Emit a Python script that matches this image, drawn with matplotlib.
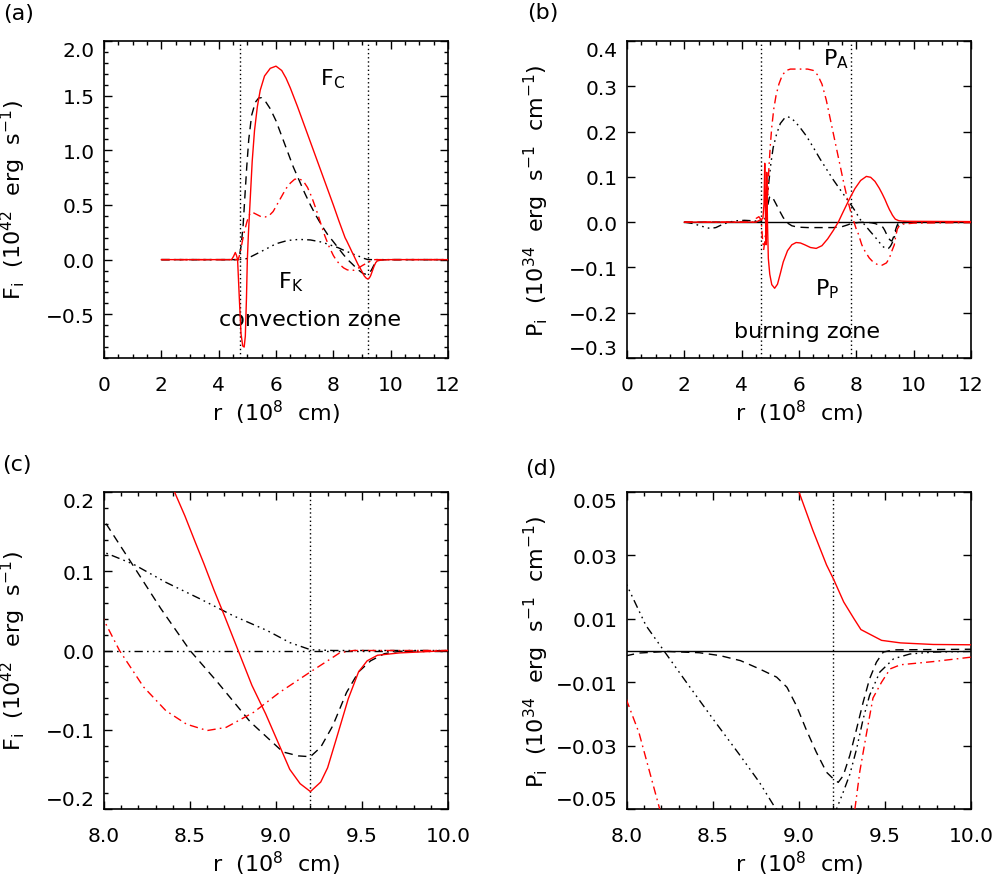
import numpy as np
import matplotlib
matplotlib.use("Agg")
import matplotlib.pyplot as plt
from matplotlib.ticker import FixedLocator, MultipleLocator, FuncFormatter, NullLocator

# ---------------- data: panel (a)/(c)  fluxes F_i (1e42 erg/s) vs r (1e8 cm) ----------------
# red solid (F_C)
fc_r = [2.0, 4.45, 4.52, 4.58, 4.62, 4.66, 4.72, 4.78, 4.84, 4.89, 4.93, 4.97, 5.00, 5.04,
        5.10, 5.17, 5.25, 5.35, 5.45, 5.60, 5.80, 6.00, 6.20, 6.35, 6.50, 6.75, 7.00, 7.25,
        7.50, 7.75, 8.00, 8.20, 8.41, 8.47, 8.53, 8.58, 8.64, 8.70, 8.78, 8.86, 8.94, 9.02,
        9.08, 9.14, 9.20, 9.26, 9.30, 9.35, 9.42, 9.48, 9.53, 9.59, 9.72, 9.92, 10.0, 12.0]
fc_v = [0.0, 0.0, 0.03, 0.065, 0.04, 0.0, -0.35, -0.68, -0.79, -0.80, -0.70, -0.35, 0.0, 0.25,
        0.55, 0.90, 1.18, 1.40, 1.55, 1.68, 1.75, 1.77, 1.73, 1.66, 1.57, 1.40, 1.22, 1.04,
        0.86, 0.68, 0.50, 0.35, 0.200, 0.170, 0.137, 0.110, 0.076, 0.044, 0.0, -0.044, -0.080, -0.120,
        -0.150, -0.168, -0.178, -0.166, -0.148, -0.112, -0.061, -0.027, -0.013, -0.006, -0.003, -0.001, 0.0, 0.0]
# black dashed
fe_r = [2.0, 4.70, 4.78, 4.85, 4.92, 4.98, 5.05, 5.15, 5.28, 5.40, 5.50, 5.65, 5.80, 6.00,
        6.20, 6.40, 6.60, 6.80, 7.00, 7.20, 7.40, 7.60, 7.80, 8.00, 8.17, 8.33, 8.50, 8.66,
        8.85, 9.04, 9.13, 9.20, 9.26, 9.33, 9.41, 9.48, 9.55, 9.63, 9.72, 10.0, 12.0]
fe_v = [0.0, 0.0, 0.12, 0.30, 0.60, 0.85, 1.10, 1.32, 1.44, 1.48, 1.48, 1.44, 1.38, 1.27,
        1.13, 0.99, 0.85, 0.73, 0.61, 0.50, 0.40, 0.31, 0.23, 0.164, 0.107, 0.053, 0.0, -0.040,
        -0.090, -0.128, -0.133, -0.134, -0.122, -0.095, -0.053, -0.027, -0.013, -0.004, -0.001, 0.0, 0.0]
# red dash-dot
fp_r = [2.0, 4.68, 4.75, 4.82, 4.90, 4.98, 5.05, 5.12, 5.20, 5.35, 5.50, 5.62, 5.75, 5.90,
        6.05, 6.20, 6.35, 6.50, 6.65, 6.80, 6.95, 7.10, 7.25, 7.40, 7.55, 7.70, 7.85, 8.00,
        8.09, 8.23, 8.36, 8.48, 8.60, 8.71, 8.87, 9.02, 9.20, 9.30, 9.37, 9.45, 12.0]
fp_v = [0.0, 0.0, 0.06, 0.16, 0.26, 0.34, 0.40, 0.43, 0.43, 0.41, 0.39, 0.39, 0.40, 0.44,
        0.51, 0.58, 0.65, 0.70, 0.735, 0.74, 0.72, 0.66, 0.57, 0.46, 0.34, 0.22, 0.12, 0.038,
        0.0, -0.046, -0.076, -0.093, -0.101, -0.097, -0.078, -0.053, -0.027, -0.013, -0.003, 0.0, 0.0]
# black dash-dot-dot (F_K)
fk_r = [2.0, 4.72, 5.00, 5.30, 5.60, 6.00, 6.40, 6.80, 7.20, 7.60, 8.00, 8.17, 8.36, 8.56,
        8.75, 8.95, 9.08, 9.20, 9.33, 12.0]
fk_v = [0.0, 0.0, 0.01, 0.05, 0.09, 0.145, 0.175, 0.185, 0.18, 0.16, 0.124, 0.109, 0.086, 0.065,
        0.044, 0.025, 0.010, 0.001, 0.0, 0.0]

# ---------------- data: panel (b)/(d)  P_i (1e34 erg/s/cm) vs r ----------------
# black solid
pz_r = [2.0, 12.0]
pz_v = [0.0, 0.0]
# red solid (P_P)
pp_r = [2.0, 4.50, 4.62, 4.74, 4.78, 4.805, 4.83, 4.85, 4.875, 4.90, 4.93, 4.98, 5.05, 5.15,
        5.25, 5.35, 5.45, 5.60, 5.75, 5.90, 6.05, 6.20, 6.40, 6.60, 6.80, 7.00, 7.20, 7.37,
        7.55, 7.75, 7.95, 8.15, 8.35, 8.50, 8.65, 8.80, 8.90, 9.00, 9.08, 9.16, 9.20, 9.26,
        9.32, 9.36, 9.48, 9.59, 9.78, 10.0, 12.0]
pp_v = [0.0, 0.0, 0.004, 0.008, 0.04, 0.13, 0.02, -0.05, 0.11, 0.0, -0.08, -0.115, -0.138, -0.146,
        -0.137, -0.113, -0.088, -0.063, -0.050, -0.045, -0.046, -0.050, -0.056, -0.058, -0.052, -0.037, -0.018, 0.0,
        0.024, 0.050, 0.074, 0.092, 0.101, 0.099, 0.090, 0.075, 0.063, 0.050, 0.038, 0.027, 0.0226, 0.0153,
        0.010, 0.0066, 0.0032, 0.0024, 0.0019, 0.0018, 0.0012]
# red dash-dot (P_A)
pa_r = [2.0, 4.40, 4.50, 4.60, 4.68, 4.73, 4.77, 4.81, 4.86, 4.90, 4.95, 5.00, 5.05, 5.12,
        5.20, 5.30, 5.42, 5.56, 5.70, 6.00, 6.30, 6.50, 6.65, 6.80, 6.95, 7.10, 7.25, 7.40,
        7.55, 7.70, 7.85, 7.92, 8.00, 8.07, 8.13, 8.19, 8.30, 8.45, 8.60, 8.75, 8.90, 9.05,
        9.15, 9.25, 9.325, 9.354, 9.393, 9.43, 9.48, 9.53, 9.59, 9.78, 10.0, 12.0]
pa_v = [0.0, 0.0, 0.008, 0.012, 0.005, -0.04, -0.06, -0.04, 0.0, 0.05, 0.12, 0.17, 0.21, 0.25,
        0.28, 0.305, 0.325, 0.335, 0.338, 0.338, 0.338, 0.335, 0.325, 0.305, 0.27, 0.225, 0.18, 0.135,
        0.09, 0.048, 0.012, 0.0, -0.016, -0.026, -0.038, -0.050, -0.064, -0.079, -0.089, -0.094, -0.095, -0.090,
        -0.080, -0.062, -0.050, -0.038, -0.026, -0.015, -0.010, -0.0058, -0.0045, -0.0035, -0.0021, -0.001]
# black dash-dot-dot
pk_r = [2.0, 2.3, 2.6, 2.9, 3.1, 3.3, 3.55, 3.8, 4.1, 4.4, 4.6, 4.80, 4.88, 4.95,
        5.02, 5.10, 5.22, 5.35, 5.50, 5.60, 5.75, 6.00, 6.26, 6.50, 6.73, 7.00, 7.19, 7.40,
        7.66, 7.85, 8.00, 8.11, 8.22, 8.345, 8.50, 8.656, 8.77, 8.86, 8.95, 9.05, 9.12, 9.18,
        9.218, 9.257, 9.296, 9.335, 9.373, 9.41, 9.47, 9.55, 9.645, 9.78, 10.0, 12.0]
pk_v = [0.0, -0.003, -0.009, -0.014, -0.012, -0.006, 0.0, 0.003, 0.004, 0.003, 0.002, 0.002, 0.04, 0.09,
        0.13, 0.165, 0.195, 0.218, 0.230, 0.233, 0.229, 0.212, 0.190, 0.165, 0.140, 0.113, 0.094, 0.075,
        0.052, 0.035, 0.0205, 0.0079, -0.0005, -0.010, -0.0216, -0.033, -0.0416, -0.0495, -0.055, -0.058, -0.058, -0.054,
        -0.050, -0.0447, -0.039, -0.031, -0.0216, -0.0142, -0.0068, -0.0026, -0.0011, -0.0005, -0.0003, 0.0]
# black dashed
pe_r = [2.0, 4.75, 4.85, 4.92, 4.97, 5.03, 5.10, 5.20, 5.33, 5.45, 5.60, 5.75, 5.95, 6.30,
        6.80, 7.20, 7.50, 7.70, 7.85, 8.00, 8.07, 8.23, 8.42, 8.54, 8.66, 8.77, 8.87, 8.93,
        8.985, 9.04, 9.10, 9.16, 9.20, 9.228, 9.257, 9.296, 9.335, 9.373, 9.41, 9.45, 9.49, 9.55,
        9.78, 10.0, 12.0]
pe_v = [0.0, 0.0, 0.01, 0.04, 0.055, 0.058, 0.052, 0.04, 0.024, 0.01, -0.002, -0.008, -0.011, -0.012,
        -0.012, -0.012, -0.010, -0.006, -0.002, -0.0016, -0.0008, -0.0003, -0.0007, -0.0016, -0.0032, -0.0058, -0.0084, -0.0116,
        -0.0174, -0.0247, -0.032, -0.0384, -0.0405, -0.0416, -0.0395, -0.033, -0.0247, -0.0163, -0.009, -0.0037, -0.0005, 0.0002,
        0.0003, 0.0004, 0.0003]

# zone boundaries (dotted verticals)
vlines_a = [4.75, 9.2]
vlines_b = [4.66, 7.83]
vlines_c = [9.2]
vlines_d = [9.2]

# tick lists
xt_ab = [0, 2, 4, 6, 8, 10, 12]
xt_cd = [8.0, 8.5, 9.0, 9.5, 10.0]
yt_a = [-0.5, 0.0, 0.5, 1.0, 1.5, 2.0]
yt_b = [-0.3, -0.2, -0.1, 0.0, 0.1, 0.2, 0.3, 0.4]
yt_c = [-0.2, -0.1, 0.0, 0.1, 0.2]
yt_d = [-0.05, -0.03, -0.01, 0.01, 0.03, 0.05]

# ---------------- style ----------------
plt.rcParams.update({
    "font.family": ["DejaVu Sans"],
    "mathtext.fontset": "dejavusans",
    "lines.scale_dashes": False,
    "axes.linewidth": 1.2,
})
RED = "#ff0000"
LW = 1.0
DASH = (0, (6, 4))
DASHDOT = (0, (6, 3, 1.2, 3))
DASHDOTDOT = (0, (6, 3, 1.2, 3, 1.2, 3, 1.2, 3))
DOT = (0, (1, 2))

W, H = 995, 879
fig = plt.figure(figsize=(W / 100, H / 100), dpi=100)


def add_ax(left, top, right, bottom):
    return fig.add_axes([left / W, 1 - bottom / H, (right - left) / W, (bottom - top) / H])


ax_a = add_ax(104, 42, 448, 359)
ax_b = add_ax(627, 42, 971, 359)
ax_c = add_ax(104, 493, 448, 810)
ax_d = add_ax(627, 493, 971, 810)


def fmt(f):
    return FuncFormatter(lambda v, p: (f % v).replace("-", "\u2212"))


def style(ax, xlim, ylim, xt, xminor, yt, yminor, xf, yf, ylabel):
    ax.set_xlim(*xlim)
    ax.set_ylim(*ylim)
    ax.xaxis.set_major_locator(FixedLocator(xt))
    ax.yaxis.set_major_locator(FixedLocator(yt))
    ax.xaxis.set_minor_locator(MultipleLocator(xminor) if xminor else NullLocator())
    ax.yaxis.set_minor_locator(MultipleLocator(yminor) if yminor else NullLocator())
    ax.xaxis.set_major_formatter(fmt(xf))
    ax.yaxis.set_major_formatter(fmt(yf))
    ax.tick_params(which="both", direction="in", top=True, right=True, width=1.0)
    ax.tick_params(which="major", length=5.5)
    ax.tick_params(which="minor", length=2.8)
    ax.tick_params(axis="x", which="major", pad=12.5, labelsize=14.5)
    ax.tick_params(axis="y", which="major", pad=6.5, labelsize=14.5)
    ax.set_xlabel(r"$\mathregular{r\ \ (10^8\ \ cm)}$", fontsize=16)
    ax.xaxis.set_label_coords(0.5, -0.125)
    ax.set_ylabel(ylabel, fontsize=16)
    ax.yaxis.set_label_coords(-0.222, 0.5)


FLAB = r"$\mathregular{F_i\ \ (10^{42}\ \ erg\ \ s^{-1})}$"
PLAB = r"$\mathregular{P_i\ \ (10^{34}\ \ erg\ \ s^{-1}\ \ cm^{-1})}$"

style(ax_a, (0, 12), (-0.9, 2.0), xt_ab, 0.5, yt_a, 0.1, "%d", "%.1f", FLAB)
style(ax_b, (0, 12), (-0.3, 0.4), xt_ab, 0.5, yt_b, None, "%d", "%.1f", PLAB)
style(ax_c, (8, 10), (-0.2, 0.2), xt_cd, 0.1, yt_c, 0.02, "%.1f", "%.1f", FLAB)
style(ax_d, (8, 10), (-0.05, 0.05), xt_cd, 0.1, yt_d, None, "%.1f", "%.2f", PLAB)


def draw_F(ax, vls):
    for x in vls:
        ax.axvline(x, color="black", lw=1.0, linestyle=DOT, zorder=1)
    ax.plot(fk_r, fk_v, color="black", lw=LW, linestyle=DASHDOTDOT, zorder=2)
    ax.plot(fe_r, fe_v, color="black", lw=LW, linestyle=DASH, zorder=3)
    ax.plot(fp_r, fp_v, color=RED, lw=LW, linestyle=DASHDOT, zorder=4)
    ax.plot(fc_r, fc_v, color=RED, lw=LW, linestyle="-", zorder=5)


def draw_P(ax, vls):
    for x in vls:
        ax.axvline(x, color="black", lw=1.0, linestyle=DOT, zorder=1)
    ax.plot(pz_r, pz_v, color="black", lw=LW, linestyle="-", zorder=2)
    ax.plot(pe_r, pe_v, color="black", lw=LW, linestyle=DASH, zorder=3)
    ax.plot(pk_r, pk_v, color="black", lw=LW, linestyle=DASHDOTDOT, zorder=3)
    ax.plot(pa_r, pa_v, color=RED, lw=LW, linestyle=DASHDOT, zorder=4)
    ax.plot(pp_r, pp_v, color=RED, lw=LW, linestyle="-", zorder=5)


draw_F(ax_a, vlines_a)
draw_P(ax_b, vlines_b)
ax_c.axhline(0.0, color="black", lw=LW, linestyle=DASHDOTDOT, zorder=1)
draw_F(ax_c, vlines_c)
draw_P(ax_d, vlines_d)

TXT = 16
ax_a.text(7.54, 1.60, r"$\mathregular{F_C}$", fontsize=TXT, va="baseline")
ax_a.text(6.07, -0.25, r"$\mathregular{F_K}$", fontsize=TXT, va="baseline")
ax_a.text(4.02, -0.60, "convection zone", fontsize=TXT, va="baseline")
ax_b.text(6.83, 0.349, r"$\mathregular{P_A}$", fontsize=TXT, va="baseline")
ax_b.text(6.55, -0.16, r"$\mathregular{P_P}$", fontsize=TXT, va="baseline")
ax_b.text(3.73, -0.253, "burning zone", fontsize=TXT, va="baseline")

fig.text(3 / W, 1 - 4 / H, "(a)", fontsize=TXT, va="top", ha="left")
fig.text(527 / W, 1 - 3 / H, "(b)", fontsize=TXT, va="top", ha="left")
fig.text(2 / W, 1 - 455 / H, "(c)", fontsize=TXT, va="top", ha="left")
fig.text(525 / W, 1 - 459 / H, "(d)", fontsize=TXT, va="top", ha="left")

# IDL-like: end labels on the y axes kept inside the frame
fig.canvas.draw()
for ax in (ax_a, ax_b, ax_c, ax_d):
    lo, hi = ax.get_ylim()
    locs = list(ax.yaxis.get_majorticklocs())
    ticks = ax.yaxis.get_major_ticks()
    for t, loc in zip(ticks, locs):
        if abs(loc - hi) < 1e-9:
            t.label1.set_verticalalignment("top")
        elif abs(loc - lo) < 1e-9:
            t.label1.set_verticalalignment("bottom")

fig.savefig("out.png", dpi=100)
